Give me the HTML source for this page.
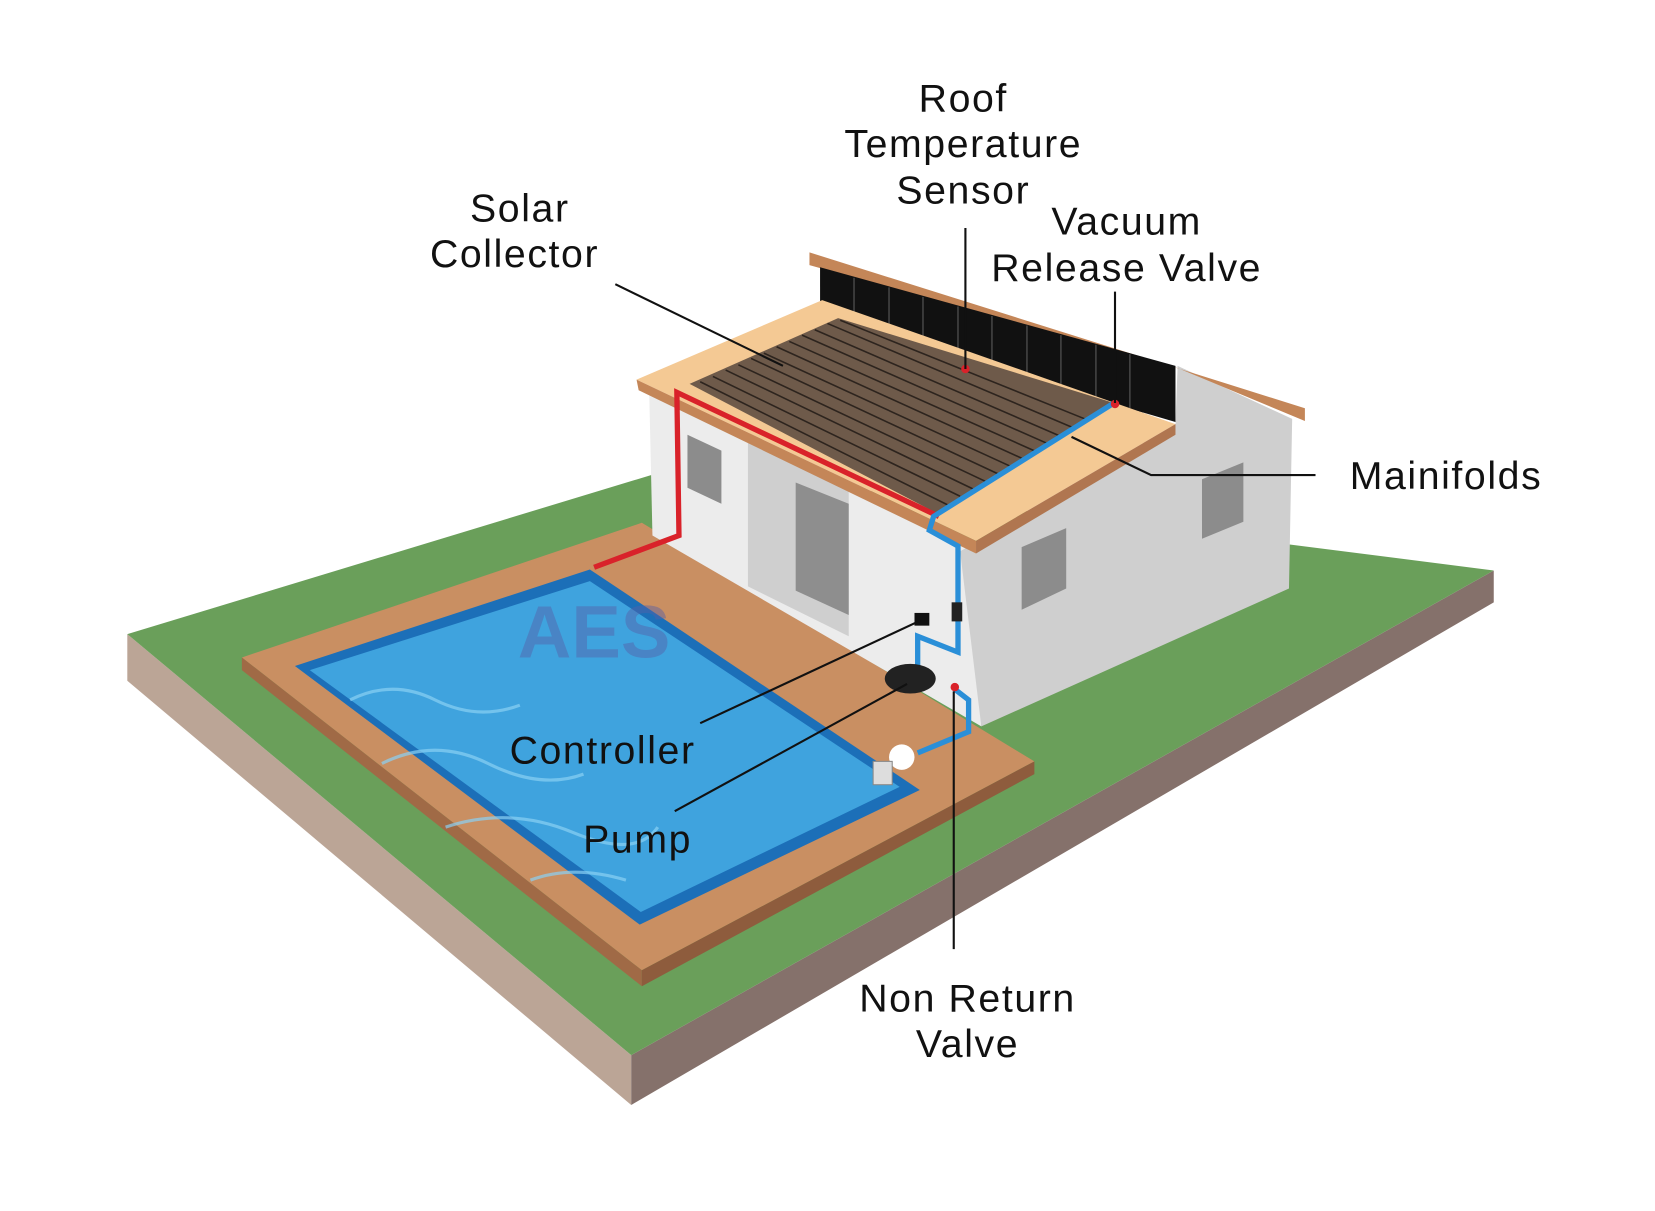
<!DOCTYPE html>
<html><head><meta charset="utf-8"><style>
html,body{margin:0;padding:0;background:#fff}
svg{display:block}
text{font-family:"Liberation Sans",sans-serif;font-size:37px;letter-spacing:1.5px;fill:#111;text-anchor:middle}
</style></head><body>
<svg width="1655" height="1211" viewBox="0 0 1560 1142" preserveAspectRatio="none" xmlns="http://www.w3.org/2000/svg">
<rect width="1560" height="1142" fill="#fff"/>
<polygon points="120,598 595,995 595,1042 120,642" fill="#bba596"/>
<polygon points="595,995 1408,538 1408,568 595,1042" fill="#85716b"/>
<polygon points="120,598 640,440 1408,538 595,995" fill="#6a9f5a"/>
<polygon points="228,620 605,493 975,718 605,915" fill="#c98f62"/>
<polygon points="228,620 605,915 605,930 228,632" fill="#a06a46"/>
<polygon points="605,915 975,718 975,730 605,930" fill="#8e5c3d"/>
<polygon points="278,628 556,537 867,745 603,872" fill="#1c6fb8"/>
<polygon points="292,632 556,548 848,742 604,860" fill="#3fa3de"/>
<path d="M330,660 q40,-20 80,0 t80,5 M360,720 q50,-25 100,0 t90,10 M420,780 q60,-20 120,5 t80,-5 M500,830 q40,-15 90,0" stroke="#8ad0f3" stroke-width="3" fill="none" opacity=".7"/>
<text x="560" y="620" style="font-size:70px;font-weight:bold;fill:#5660a8;opacity:.45;letter-spacing:0">AES</text>
<polygon points="612,372 920,520 925,685 615,505" fill="#ececec"/>
<polygon points="705,412 800,456 800,600 705,553" fill="#cfcfcf"/>
<polygon points="750,455 800,475 800,580 750,557" fill="#8e8e8e"/>
<polygon points="648,410 680,425 680,475 648,460" fill="#8c8c8c"/>
<polygon points="905,520 1108,400 1110,345 1218,395 1215,555 925,685" fill="#cfcfcf"/>
<polygon points="963,516 1005,498 1005,555 963,575" fill="#8c8c8c"/>
<polygon points="1133,452 1172,436 1172,492 1133,508" fill="#8c8c8c"/>
<polygon points="763,238 1230,385 1230,397 1110,347 763,250" fill="#c48658"/>
<polygon points="773,252 1108,345 1108,398 773,300" fill="#111"/>
<g stroke="#444" stroke-width="1.5">
<line x1="805" y1="262" x2="805" y2="309"/><line x1="838" y1="271" x2="838" y2="318"/><line x1="870" y1="280" x2="870" y2="328"/><line x1="903" y1="289" x2="903" y2="337"/><line x1="935" y1="298" x2="935" y2="347"/><line x1="968" y1="307" x2="968" y2="356"/><line x1="1000" y1="316" x2="1000" y2="366"/><line x1="1033" y1="325" x2="1033" y2="375"/><line x1="1065" y1="334" x2="1065" y2="385"/></g>
<polygon points="600,358 775,283 1108,400 920,510" fill="#f4c994"/>
<polygon points="600,358 920,510 920,522 602,368" fill="#c48658"/>
<polygon points="920,510 1108,400 1108,410 920,522" fill="#b07650"/>
<polygon points="650,362 790,300 1050,380 885,485" fill="#6e5a4a"/>
<g stroke="#2d241e" stroke-width="1.5">
<line x1="660" y1="360" x2="893" y2="476"/><line x1="672" y1="355" x2="905" y2="468"/><line x1="684" y1="349" x2="917" y2="461"/><line x1="696" y1="344" x2="929" y2="454"/><line x1="708" y1="338" x2="941" y2="447"/><line x1="720" y1="333" x2="953" y2="440"/><line x1="732" y1="327" x2="965" y2="433"/><line x1="744" y1="322" x2="977" y2="426"/><line x1="756" y1="316" x2="989" y2="419"/><line x1="768" y1="311" x2="1001" y2="412"/><line x1="780" y1="305" x2="1013" y2="404"/><line x1="792" y1="302" x2="1025" y2="396"/></g>
<polyline points="560,535 640,505 638,370 885,487" fill="none" stroke="#d9222a" stroke-width="5"/>
<polyline points="1050,380 880,487 876,500 903,515 903,615 865,600 865,630" fill="none" stroke="#2a8fd8" stroke-width="5"/>
<polyline points="900,650 913,660 913,690 865,710" fill="none" stroke="#2a8fd8" stroke-width="5"/>
<rect x="897" y="568" width="10" height="18" fill="#222"/>
<rect x="862" y="578" width="14" height="12" fill="#111"/>
<ellipse cx="858" cy="640" rx="24" ry="14" fill="#222"/>
<circle cx="850" cy="714" r="12" fill="#fff"/>
<rect x="823" y="718" width="18" height="22" fill="#ddd" stroke="#888"/>
<circle cx="900" cy="648" r="4" fill="#d9222a"/>
<circle cx="910" cy="348" r="4" fill="#d9222a"/>
<circle cx="1051" cy="381" r="4" fill="#d9222a"/>
<g stroke="#111" stroke-width="2" fill="none">
<line x1="580" y1="268" x2="738" y2="345"/>
<line x1="910" y1="215" x2="910" y2="348"/>
<line x1="1051" y1="275" x2="1051" y2="380"/>
<polyline points="1240,448 1085,448 1010,412"/>
<line x1="660" y1="682" x2="868" y2="585"/>
<line x1="636" y1="765" x2="855" y2="645"/>
<line x1="899" y1="895" x2="899" y2="652"/>
</g>
<text x="908" y="105">Roof</text>
<text x="908" y="148">Temperature</text>
<text x="908" y="192">Sensor</text>
<text x="490" y="209">Solar</text>
<text x="485" y="252">Collector</text>
<text x="1062" y="221">Vacuum</text>
<text x="1062" y="265">Release Valve</text>
<text x="1363" y="461">Mainifolds</text>
<text x="568" y="720">Controller</text>
<text x="601" y="804">Pump</text>
<text x="912" y="954">Non Return</text>
<text x="912" y="997">Valve</text>
</svg>
</body></html>
